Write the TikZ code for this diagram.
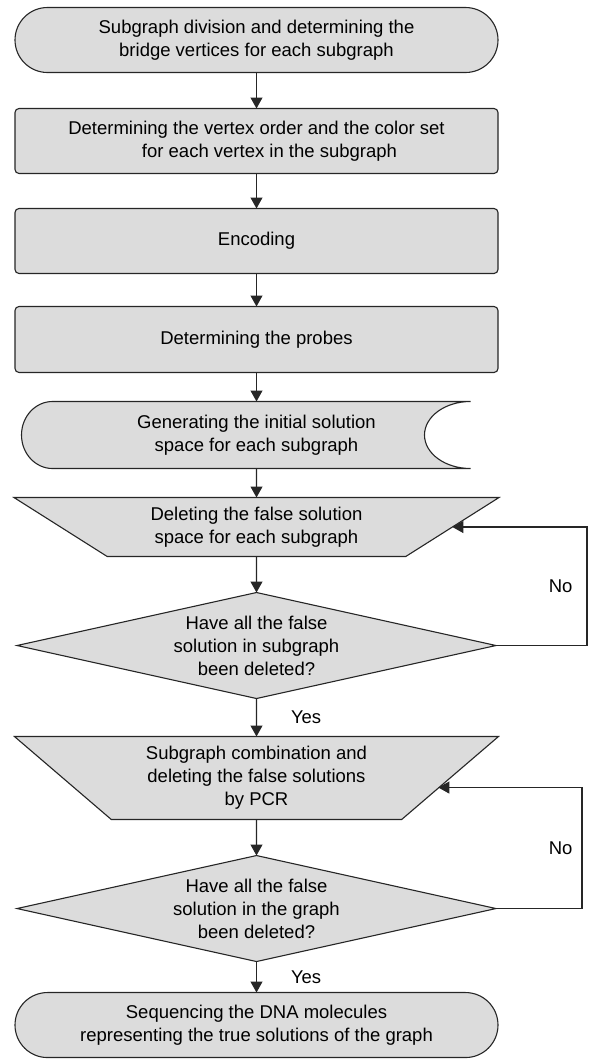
\documentclass[tikz,border=0pt]{standalone}
\usepackage{fontspec}
\setmainfont{Liberation Sans}
\usepackage{tikz}
\usetikzlibrary{positioning,arrows.meta,calc,shapes.geometric,backgrounds}
\definecolor{shade}{HTML}{DCDCDC}
\definecolor{edge}{HTML}{262626}
\tikzset{
  outline/.style = {draw=edge, fill=shade, line width=1.1pt},
  base/.style    = {outline, align=center, inner sep=0pt, outer sep=0pt,
                    font=\fontsize{18.5}{23}\selectfont},
  proc/.style    = {base, rounded corners=4pt, minimum width=483pt, minimum height=65pt},
  term/.style    = {proc, rounded corners=32.5pt},
  store/.style   = {base, draw=none, fill=none, minimum width=470pt, minimum height=67pt},
  manual/.style  = {base, trapezium, shape border rotate=180, trapezium stretches=true,
                    minimum width=486pt},
  decis/.style   = {base, diamond, aspect=4.4, minimum width=479pt, minimum height=106pt},
  arrow/.style   = {-{Triangle[length=11pt, width=12pt]}, line width=1.1pt, draw=edge},
  lbl/.style     = {font=\fontsize{18.5}{23}\selectfont, inner sep=2pt}
}

\begin{document}
\begin{tikzpicture}[x=1pt, y=1pt]
  \useasboundingbox (0,0) rectangle (589,-1061);
  \node[term] (start) at (256.5,-40) {Subgraph division and determining the\\ bridge vertices for each subgraph};
  \node[proc, below=36pt of start] (order) {Determining the vertex order and the color set\\ \hspace*{26pt}for each vertex in the subgraph};
  \node[proc, below=35pt of order] (enc) {Encoding};
  \node[proc, minimum height=66pt, below=33pt of enc] (probes) {Determining the probes};
  \node[store, below=29pt of probes] (gen) {Generating the initial solution\\ space for each subgraph};
  \node[manual, trapezium angle=31.3, minimum height=59pt, below=29pt of gen] (del) {Deleting the false solution\\ space for each subgraph};
  \node[decis, below=36pt of del] (chk1) {Have all the false\\ solution in subgraph\\ been deleted?};
  \node[manual, trapezium angle=40.6, minimum height=83pt, below=38pt of chk1] (comb) {Subgraph combination and\\ deleting the false solutions\\ by PCR};
  \node[decis, below=36pt of comb] (chk2) {Have all the false\\ solution in the graph\\ been deleted?};
  \node[term, below=31pt of chk2] (seq) {Sequencing the DNA molecules\\ representing the true solutions of the graph};

  \begin{scope}[on background layer]
    \draw[outline] ([xshift=31pt]gen.north west) -- ([xshift=-21pt]gen.north east)
      arc[start angle=90, end angle=270, x radius=46pt, y radius=33.5pt]
      -- ([xshift=31pt]gen.south west)
      arc[start angle=270, end angle=90, x radius=31pt, y radius=33.5pt] -- cycle;
  \end{scope}

  \draw[arrow] (start) -- (order);
  \draw[arrow] (order) -- (enc);
  \draw[arrow] (enc) -- (probes);
  \draw[arrow] (probes) -- (gen);
  \draw[arrow] (gen) -- (del);
  \draw[arrow] (del) -- (chk1);
  \draw[arrow] (chk1) -- node[lbl, right=32pt] {Yes} (comb);
  \draw[arrow] (comb) -- (chk2);
  \draw[arrow] (chk2) -- node[lbl, right=32pt] {Yes} (seq);
  \draw[arrow] (chk1.east) -- ++(91,0) |- node[lbl, pos=0.25, left=12pt] {No} (del.east);
  \draw[arrow] (chk2.east) -- ++(86,0) |- node[lbl, pos=0.25, left=7pt] {No} ([shift={(-11.7,-9.5)}]comb.east);
\end{tikzpicture}
\end{document}
